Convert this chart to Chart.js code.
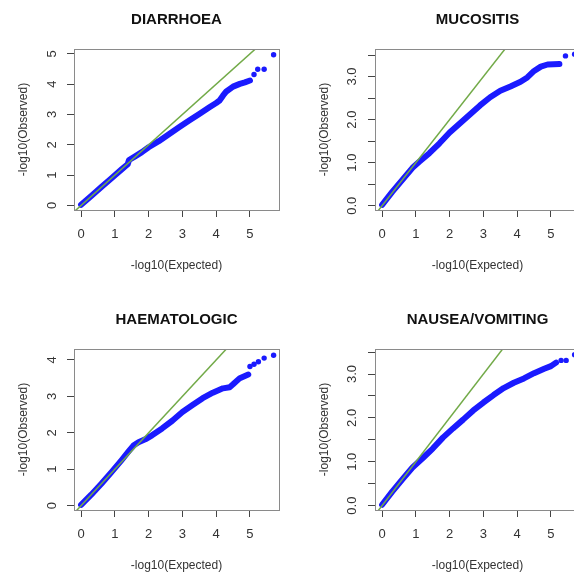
<!DOCTYPE html>
<html lang="en">
<head>
<meta charset="UTF-8">
<title>QQ plots by toxicity</title>
<style>
    body {
        margin: 0;
        background: #fff;
        overflow: hidden;
    }
    #grid {
        position: relative;
        width: 574px;
        height: 578px;
        overflow: hidden;
    }
    .panel {
        position: absolute;
        width: 287px;
        height: 289px;
    }
</style>
<script src="https://cdn.jsdelivr.net/npm/chart.js"></script>
</head>
<body>

<div id="grid">
    <div class="panel" style="left:0;top:0"><canvas id="qq1" width="287" height="289"></canvas></div>
    <div class="panel" style="left:301px;top:0"><canvas id="qq2" width="287" height="289"></canvas></div>
    <div class="panel" style="left:0;top:300px"><canvas id="qq3" width="287" height="289"></canvas></div>
    <div class="panel" style="left:301px;top:300px"><canvas id="qq4" width="287" height="289"></canvas></div>
</div>

<script>
    // tick positions
    const xTicks = [0, 1, 2, 3, 4, 5];
    const yTicksInt = [0, 1, 2, 3, 4, 5];
    const yTicksHalf = [0, 0.5, 1, 1.5, 2, 2.5, 3, 3.5];

    // y = x reference line
    const refLine = [-1, 7];

    // DIARRHOEA
    const diarExp = [0, 0.3, 0.6, 0.9, 1.2, 1.38, 1.42, 1.6, 1.8, 2.0, 2.3, 2.6, 2.9, 3.2, 3.5, 3.8, 4.0, 4.1, 4.2, 4.3, 4.5, 4.7, 4.85, 5.0];
    const diarObs = [0.02, 0.31, 0.61, 0.9, 1.19, 1.36, 1.5, 1.62, 1.76, 1.92, 2.12, 2.35, 2.58, 2.8, 3.02, 3.24, 3.38, 3.46, 3.62, 3.76, 3.92, 4.01, 4.06, 4.12];
    const diarTailExp = [5.12, 5.23, 5.42, 5.70];
    const diarTailObs = [4.32, 4.49, 4.49, 4.97];

    // MUCOSITIS
    const mucoExp = [0, 0.3, 0.6, 0.9, 1.1, 1.4, 1.7, 2.0, 2.3, 2.6, 2.9, 3.2, 3.5, 3.8, 4.1, 4.3, 4.5, 4.7, 4.9, 5.25];
    const mucoObs = [0.02, 0.32, 0.6, 0.88, 1.02, 1.22, 1.45, 1.7, 1.91, 2.12, 2.33, 2.52, 2.67, 2.77, 2.88, 2.98, 3.13, 3.23, 3.28, 3.29];
    const mucoTailExp = [5.43, 5.70];
    const mucoTailObs = [3.48, 3.52];

    // HAEMATOLOGIC
    const haemExp = [0, 0.3, 0.6, 0.9, 1.2, 1.4, 1.55, 1.7, 1.9, 2.1, 2.4, 2.7, 3.0, 3.3, 3.6, 3.9, 4.2, 4.4, 4.5, 4.7, 4.95];
    const haemObs = [0.02, 0.3, 0.6, 0.92, 1.25, 1.48, 1.65, 1.74, 1.82, 1.93, 2.12, 2.33, 2.57, 2.76, 2.95, 3.1, 3.22, 3.25, 3.33, 3.5, 3.6];
    const haemTailExp = [5.0, 5.12, 5.25, 5.42, 5.70];
    const haemTailObs = [3.82, 3.88, 3.95, 4.05, 4.13];

    // NAUSEA/VOMITING
    const nausExp = [0, 0.3, 0.6, 0.9, 1.2, 1.5, 1.8, 2.1, 2.4, 2.7, 3.0, 3.3, 3.6, 3.9, 4.2, 4.5, 4.8, 5.0, 5.15];
    const nausObs = [0.02, 0.32, 0.6, 0.87, 1.08, 1.3, 1.55, 1.76, 1.96, 2.17, 2.35, 2.52, 2.68, 2.8, 2.9, 3.02, 3.12, 3.18, 3.26];
    const nausTailExp = [5.3, 5.45, 5.70];
    const nausTailObs = [3.31, 3.31, 3.44];

    const FONT = "'Liberation Sans', Arial, sans-serif";
    const AXIS_COL = '#444';
    const BLUE = '#1a1aff';
    const GREEN = '#72aa48';

    const toPoints = (xs, ys) => xs.map((x, i) => ({x: x, y: ys[i]}));

    // R style frame round the plot region
    const boxPlugin = {
        id: 'box',
        afterDraw(chart) {
            const {ctx, chartArea: a} = chart;
            ctx.save();
            ctx.strokeStyle = '#8a8a8a';
            ctx.lineWidth = 1;
            ctx.strokeRect(a.left + 0.5, a.top + 0.5, a.right - a.left, a.bottom - a.top);
            ctx.restore();
        }
    };

    function makePanel(id, title, exp, obs, tailExp, tailObs, yRange, yTicks, halfTicks, yPad) {
        new Chart(document.getElementById(id), {
            type: 'scatter',
            data: {
                datasets: [
                    {
                        data: toPoints(refLine, refLine),
                        showLine: true,
                        borderColor: GREEN,
                        borderWidth: 1.5,
                        pointRadius: 0,
                        order: 0
                    },
                    {
                        data: toPoints(exp, obs),
                        showLine: true,
                        borderColor: BLUE,
                        borderWidth: 6,
                        borderCapStyle: 'round',
                        borderJoinStyle: 'round',
                        pointRadius: 0,
                        order: 1
                    },
                    {
                        data: toPoints(tailExp, tailObs),
                        backgroundColor: BLUE,
                        borderWidth: 0,
                        pointRadius: 2.7,
                        order: 2
                    }
                ]
            },
            options: {
                responsive: false,
                animation: false,
                events: [],
                layout: {padding: {left: 0, right: 8, top: 0, bottom: 0}},
                plugins: {
                    legend: {display: false},
                    tooltip: {enabled: false},
                    title: {
                        display: true,
                        text: title,
                        fullSize: false,
                        color: '#111',
                        font: {family: FONT, size: 15, weight: 'bold', lineHeight: 1.2},
                        padding: {top: 11, bottom: 20}
                    }
                },
                scales: {
                    x: {
                        type: 'linear',
                        min: -0.21,
                        max: 5.86,
                        afterFit(s) { s.height = 79; },
                        afterBuildTicks(s) { s.ticks = xTicks.map(v => ({value: v})); },
                        grid: {drawOnChartArea: false, drawTicks: true, tickLength: 7, color: AXIS_COL},
                        border: {display: true, color: AXIS_COL},
                        ticks: {
                            color: '#333',
                            padding: 10,
                            maxRotation: 0,
                            font: {family: FONT, size: 13},
                            callback: v => String(v)
                        },
                        title: {
                            display: true,
                            text: '-log10(Expected)',
                            color: '#333',
                            font: {family: FONT, size: 12},
                            padding: {top: 0, bottom: 15.8}
                        }
                    },
                    y: {
                        type: 'linear',
                        min: yRange[0],
                        max: yRange[1],
                        afterFit(s) { s.width = 74; },
                        afterBuildTicks(s) { s.ticks = yTicks.map(v => ({value: v})); },
                        grid: {drawOnChartArea: false, drawTicks: true, tickLength: 7, color: AXIS_COL},
                        border: {display: true, color: AXIS_COL},
                        ticks: {
                            color: '#333',
                            padding: yPad,
                            minRotation: 90,
                            maxRotation: 90,
                            crossAlign: 'center',
                            font: {family: FONT, size: 13},
                            callback: v => halfTicks ? (Number.isInteger(v) ? v.toFixed(1) : '') : String(v)
                        },
                        title: {
                            display: true,
                            text: '-log10(Observed)',
                            color: '#333',
                            font: {family: FONT, size: 12},
                            padding: {top: 16.5, bottom: 0}
                        }
                    }
                }
            },
            plugins: [boxPlugin]
        });
    }

    makePanel('qq1', 'DIARRHOEA', diarExp, diarObs, diarTailExp, diarTailObs, [-0.15, 5.16], yTicksInt, false, 10.5);
    makePanel('qq2', 'MUCOSITIS', mucoExp, mucoObs, mucoTailExp, mucoTailObs, [-0.1, 3.64], yTicksHalf, true, 6.5);
    makePanel('qq3', 'HAEMATOLOGIC', haemExp, haemObs, haemTailExp, haemTailObs, [-0.12, 4.3], yTicksInt.slice(0, 5), false, 10.5);
    makePanel('qq4', 'NAUSEA/VOMITING', nausExp, nausObs, nausTailExp, nausTailObs, [-0.1, 3.57], yTicksHalf, true, 6.5);
</script>

</body>
</html>
